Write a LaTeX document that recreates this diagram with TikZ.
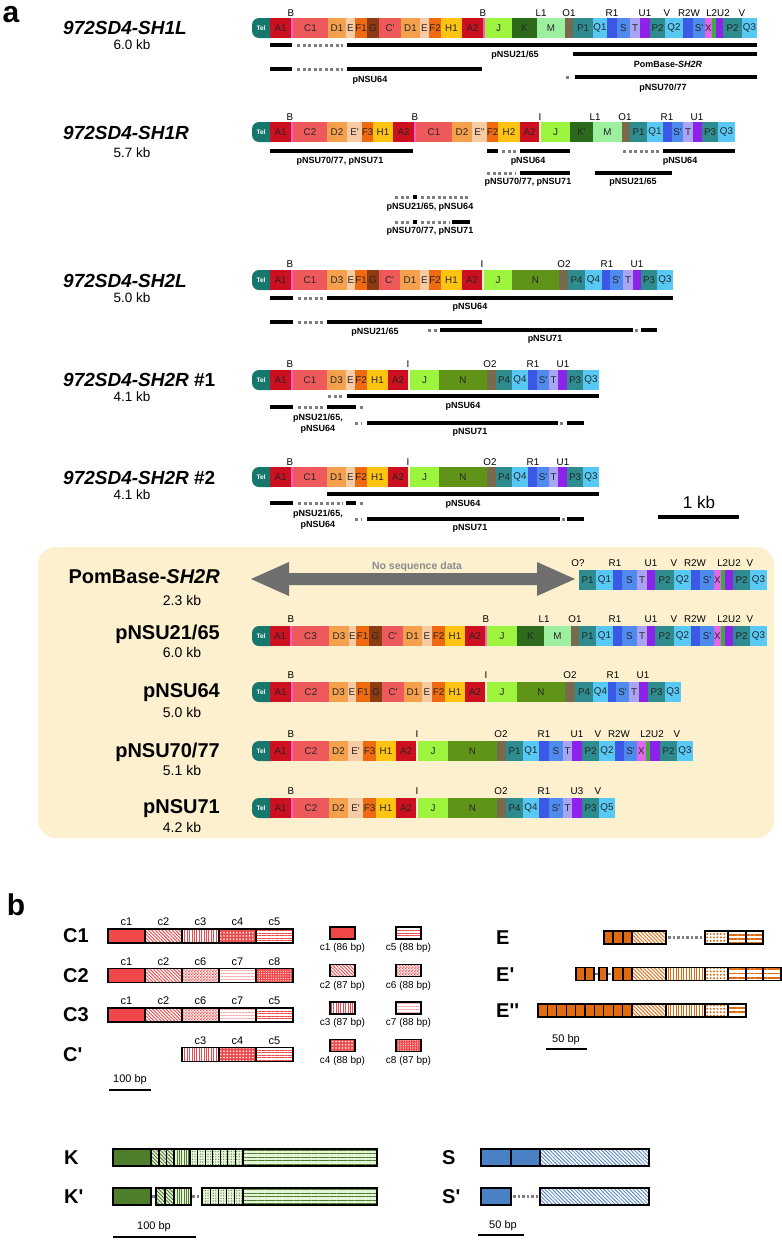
\documentclass[tikz,border=0pt]{standalone}
\usepackage{fontspec}
\setmainfont{Liberation Sans}
\usetikzlibrary{patterns,patterns.meta}
\pgfdeclarepattern{
  name=finecheck,
  type=uncolored,
  bottom left={\pgfpoint{0pt}{0pt}},
  top right={\pgfpoint{3.2pt}{3.2pt}},
  tile size={\pgfpoint{3.2pt}{3.2pt}},
  code={
    \pgfpathrectangle{\pgfpointorigin}{\pgfpoint{1.6pt}{1.6pt}}
    \pgfpathrectangle{\pgfpoint{1.6pt}{1.6pt}}{\pgfpoint{1.6pt}{1.6pt}}
    \pgfusepath{fill}
  }
}
\definecolor{cTel}{HTML}{17776C}
\definecolor{cA}{HTML}{CC1020}
\definecolor{cB}{HTML}{FF5CC8}
\definecolor{cI}{HTML}{FCEBD0}
\definecolor{cC}{HTML}{EE5A5C}
\definecolor{cD}{HTML}{F4A04C}
\definecolor{cE}{HTML}{F8CBA4}
\definecolor{cF}{HTML}{F06A12}
\definecolor{cG}{HTML}{8B3A12}
\definecolor{cH}{HTML}{FFC412}
\definecolor{cJ}{HTML}{9CF53C}
\definecolor{cK}{HTML}{2E6A1C}
\definecolor{cM}{HTML}{9DEFA0}
\definecolor{cN}{HTML}{5F9418}
\definecolor{cO}{HTML}{786A4C}
\definecolor{cP}{HTML}{2F8C8E}
\definecolor{cQ}{HTML}{58C8F5}
\definecolor{cR}{HTML}{3C58E6}
\definecolor{cS}{HTML}{4F8BEF}
\definecolor{cT}{HTML}{AAA4F4}
\definecolor{cU}{HTML}{8E22EA}
\definecolor{cX}{HTML}{E068E8}
\definecolor{cL}{HTML}{3FAA3F}
\definecolor{cBox}{HTML}{FDF0CF}
\definecolor{cArrow}{HTML}{6E6E6E}
\definecolor{cRed}{HTML}{F04848}
\definecolor{cOr}{HTML}{E06A10}
\definecolor{cKg}{HTML}{4E7D2C}
\definecolor{cKl}{HTML}{E6F4DA}
\definecolor{cSb}{HTML}{4A80C4}
\definecolor{cDot}{HTML}{7F7F7F}

\newcommand\ap{\textquotesingle}
\newcommand\tel[2]{\fill[cTel,rounded corners=7pt] (252,#2-10) rectangle (278,#2+10);
  \node[tellab] (#1) at (261,#2) {Tel};}
\newcommand\segs[3]{\foreach \sxa/\sxb/\scol/\slab [count=\sk] in {#3}{%
  \fill[\scol] (\sxa,#2-10) rectangle (\sxb,#2+10);
  \node[seglab] (#1-\sk) at ({(\sxa+\sxb)/2},#2) {\slab};}}
\newcommand\strip[4]{\fill[#4] (#1,#3-10) rectangle (#2,#3+10);}
\newcommand\tops[3]{\foreach \sxx/\slab [count=\sk] in {#3}{\node[toplab] (#1-\sk) at (\sxx,#2) {\slab};}}
\newcommand\bsol[3]{\draw[solbar] (#1,#3) -- (#2,#3);}
\newcommand\bdot[3]{\draw[dotbar] (#1,#3) -- (#2,#3);}
\newcommand\pb[6]{\fill[#5] (#1,#3-#4) rectangle (#2,#3+#4);
  \fill[#6] (#1,#3-#4) rectangle (#2,#3+#4);
  \draw[line width=1.2pt] (#1,#3-#4) rectangle (#2,#3+#4);}
\newcommand\cu[4]{\pb{#1}{#2}{#3}{7}{bg#4}{pat#4}}
\newcommand\eu[4]{\pb{#1}{#2}{#3}{6.5}{bg#4}{pat#4}}
\newcommand\ku[4]{\pb{#1}{#2}{#3}{8.5}{bg#4}{pat#4}}

\begin{document}
\begin{tikzpicture}[x=1pt,y=-1pt,
  seglab/.style={font=\fontsize{9.8}{10}\selectfont, inner sep=0pt, text=black!85},
  toplab/.style={font=\fontsize{9.8}{10}\selectfont, inner sep=0pt},
  tellab/.style={font=\bfseries\fontsize{6.5}{7}\selectfont, text=white, inner sep=0pt},
  barlab/.style={font=\bfseries\fontsize{9}{10}\selectfont, inner sep=0pt},
  solbar/.style={line width=4pt},
  dotbar/.style={line width=3pt, draw=cDot, dash pattern=on 3pt off 2.5pt},
  dotb/.style={line width=2.5pt, draw=cDot, dash pattern=on 2.5pt off 2pt},
  title/.style={font=\bfseries\itshape\fontsize{19}{20}\selectfont, inner sep=0pt, anchor=west},
  kb/.style={font=\fontsize{13.5}{14}\selectfont, inner sep=0pt},
  boxtitle/.style={font=\bfseries\fontsize{20}{22}\selectfont, inner sep=0pt, anchor=east},
  boxkb/.style={font=\fontsize{14}{15}\selectfont, inner sep=0pt},
  panel/.style={font=\bfseries\fontsize{30}{30}\selectfont, inner sep=0pt},
  blab/.style={font=\bfseries\fontsize{20}{22}\selectfont, inner sep=0pt, anchor=west},
  clab/.style={font=\fontsize{11}{12}\selectfont, inner sep=0pt},
  leglab/.style={font=\fontsize{10}{11}\selectfont, inner sep=0pt},
  scal/.style={font=\fontsize{11}{12}\selectfont, inner sep=0pt},
  bgc1/.style={fill=cRed}, patc1/.style={fill=none},
  bgc2/.style={fill=white}, patc2/.style={pattern={Lines[angle=-45,distance=2.4pt,line width=0.9pt]}, pattern color=cRed},
  bgc3/.style={fill=white}, patc3/.style={pattern={Lines[angle=90,distance=2.4pt,line width=0.9pt]}, pattern color=cRed},
  bgc4/.style={fill=cRed}, patc4/.style={pattern={Dots[radius=0.9pt,distance=3.2pt]}, pattern color=white},
  bgc5/.style={fill=white}, patc5/.style={pattern={Lines[angle=0,distance=2.6pt,line width=1pt]}, pattern color=cRed},
  bgc6/.style={fill=white}, patc6/.style={pattern=finecheck, pattern color=cRed},
  bgc7/.style={fill=white}, patc7/.style={pattern={Lines[angle=0,distance=3pt,line width=0.5pt]}, pattern color=cRed!45},
  bgc8/.style={fill=cRed}, patc8/.style={pattern={Dots[radius=0.6pt,distance=2.4pt]}, pattern color=white},
  bgeS/.style={fill=cOr}, pateS/.style={fill=none},
  bgeD/.style={fill=white}, pateD/.style={pattern={Lines[angle=-45,distance=2.6pt,line width=0.9pt]}, pattern color=cOr},
  bgeV/.style={fill=white}, pateV/.style={pattern={Lines[angle=90,distance=2.6pt,line width=1pt]}, pattern color=cOr},
  bgeC/.style={fill=white}, pateC/.style={pattern={Dots[radius=1.1pt,distance=3.4pt]}, pattern color=cOr},
  bgeH/.style={fill=white}, pateH/.style={pattern={Lines[angle=0,distance=4.3pt,line width=1.7pt]}, pattern color=cOr},
  bgkS/.style={fill=cKg}, patkS/.style={fill=none},
  bgkD/.style={fill=cKl}, patkD/.style={pattern={Lines[angle=-45,distance=2.6pt,line width=0.9pt]}, pattern color=cKg},
  bgkV/.style={fill=cKl}, patkV/.style={pattern={Lines[angle=90,distance=2.3pt,line width=0.8pt]}, pattern color=cKg},
  bgkG/.style={fill=cKl}, patkG/.style={pattern={Dots[radius=0.6pt,distance=2.6pt]}, pattern color=cKg},
  bgkH/.style={fill=cKl}, patkH/.style={pattern={Lines[angle=0,distance=3.6pt,line width=1.1pt]}, pattern color=cKg},
  bgsS/.style={fill=cSb}, patsS/.style={fill=none},
  bgsD/.style={fill=white}, patsD/.style={pattern={Lines[angle=-45,distance=2.6pt,line width=0.8pt]}, pattern color=cSb},
]
\useasboundingbox (0,0) rectangle (782,1240);
\fill[white] (0,0) rectangle (782,1240);

\node[panel] (pa) at (11,15) {a};

%% ---------------- SH1L
\node[title] (t1) at (63,28) {972SD4-SH1L};
\node[kb] (k1) at (132,45) {6.0 kb};
\tel{tel1}{28}
\segs{s1}{28}{270/291/cA/A1, 293/328/cC/C1, 328/346/cD/D1, 346/355/cE/E, 355/367/cF/F1, 367/379/cG/G, 379/401/cC/C\ap, 401/420/cD/D1, 420/429/cE/E, 429/441/cF/F2, 441/462/cH/H1, 462/483/cA/A2, 485/512/cJ/J, 512/537/cK/K, 537/565/cM/M, 565/573/cO/{}, 573/593/cP/P1, 593/607/cQ/Q1, 607/617/cR/{}, 617/630/cS/S, 630/640/cT/T, 640/650/cU/{}, 650/665/cP/P2, 665/683/cQ/Q2, 683/693/cR/{}, 693/705/cS/S\ap, 705/712/cX/X, 712/716/cL/{}, 716/723/cU/{}, 723/742/cP/P2, 742/757/cQ/Q3}
\strip{291}{293}{28}{cB}\strip{483}{485}{28}{cB}
\tops{u1}{13}{291/B, 483/B, 541/L1, 569/O1, 612/R1, 645/U1, 667/V, 689/R2W, 718/L2U2, 742/V}
\bsol{270}{292}{45}\bdot{297}{343}{45}\bsol{347}{757}{45}
\node[barlab] (b11) at (515,55) {pNSU21/65};
\bsol{573}{757}{54}
\node[barlab] (b12) at (668,64) {PomBase-\textit{SH2R}};
\bsol{270}{292}{69}\bdot{297}{343}{69}\bsol{347}{482}{69}
\node[barlab] (b13) at (370,80) {pNSU64};
\bdot{566}{571}{77}\bsol{575}{757}{77}
\node[barlab] (b14) at (663,88) {pNSU70/77};

%% ---------------- SH1R
\node[title] (t2) at (63,133) {972SD4-SH1R};
\node[kb] (k2) at (132,153) {5.7 kb};
\tel{tel2}{132}
\segs{s2}{132}{270/291/cA/A1, 293/327/cC/C2, 327/347/cD/D2, 347/362/cE/E\ap, 362/373/cF/F3, 373/393/cH/H1, 393/414/cA/A2, 416/452/cC/C1, 452/472/cD/D2, 472/487/cE/E\ap\ap, 487/498/cF/F2, 498/520/cH/H2, 520/539/cA/A2, 541/570/cJ/J, 570/593/cK/K\ap, 593/622/cM/M, 622/630/cO/{}, 630/647/cP/P1, 647/663/cQ/Q1, 663/672/cR/{}, 672/683/cS/S\ap, 683/693/cT/T, 693/702/cU/{}, 702/718/cP/P3, 718/735/cQ/Q3}
\strip{291}{293}{132}{cB}\strip{414}{416}{132}{cB}\strip{539}{541}{132}{cI}
\tops{u2}{117}{290/B, 415/B, 540/I, 595/L1, 625/O1, 667/R1, 697/U1}
\bsol{270}{413}{151}
\node[barlab] (b21) at (340,161) {pNSU70/77, pNSU71};
\bsol{487}{498}{151}\bdot{502}{516}{151}\bsol{520}{570}{151}
\node[barlab] (b22) at (528,161) {pNSU64};
\bdot{623}{659}{151}\bsol{663}{735}{151}
\node[barlab] (b23) at (680,161) {pNSU64};
\bdot{487}{516}{173}\bsol{520}{570}{173}
\node[barlab] (b24) at (528,182) {pNSU70/77, pNSU71};
\bsol{595}{672}{173}
\node[barlab] (b25) at (633,182) {pNSU21/65};
\bdot{395}{410}{197}\bsol{413}{417}{197}\bdot{421}{470}{197}
\node[barlab] (b26) at (430,207) {pNSU21/65, pNSU64};
\bdot{395}{410}{222}\bsol{413}{417}{222}\bdot{421}{450}{222}\bsol{452}{470}{222}
\node[barlab] (b27) at (430,231) {pNSU70/77, pNSU71};

%% ---------------- SH2L
\node[title] (t3) at (63,281) {972SD4-SH2L};
\node[kb] (k3) at (132,298) {5.0 kb};
\tel{tel3}{280}
\segs{s3}{280}{270/291/cA/A1, 293/327/cC/C1, 327/347/cD/D3, 347/355/cE/E, 355/367/cF/F1, 367/379/cG/G, 379/400/cC/C\ap, 400/420/cD/D1, 420/429/cE/E, 429/441/cF/F2, 441/462/cH/H1, 462/482/cA/A2, 484/512/cJ/J, 512/559/cN/N, 559/568/cO/{}, 568/585/cP/P4, 585/602/cQ/Q4, 602/610/cR/{}, 610/623/cS/S\ap, 623/633/cT/T, 633/641/cU/{}, 641/657/cP/P3, 657/673/cQ/Q3}
\strip{291}{293}{280}{cB}\strip{482}{484}{280}{cI}
\tops{u3}{264}{290/B, 482/I, 564/O2, 607/R1, 637/U1}
\bsol{270}{293}{298}\bdot{298}{323}{298}\bsol{327}{673}{298}
\node[barlab] (b31) at (470,307) {pNSU64};
\bsol{270}{293}{322}\bdot{298}{323}{322}\bsol{327}{482}{322}
\node[barlab] (b32) at (375,332) {pNSU21/65};
\bdot{428}{437}{330}\bsol{440}{633}{330}\bdot{635}{638}{330}\bsol{641}{657}{330}
\node[barlab] (b33) at (545,339) {pNSU71};

%% ---------------- SH2R #1
\node[title] (t4) at (63,380) {972SD4-SH2R \upshape\#1};
\node[kb] (k4) at (132,397) {4.1 kb};
\tel{tel4}{380}
\segs{s4}{380}{270/291/cA/A1, 293/327/cC/C1, 327/346/cD/D3, 346/355/cE/E, 355/367/cF/F2, 367/388/cH/H1, 388/408/cA/A2, 410/439/cJ/J, 439/487/cN/N, 487/496/cO/{}, 496/512/cP/P4, 512/528/cQ/Q4, 528/537/cR/{}, 537/549/cS/S\ap, 549/558/cT/T, 558/567/cU/{}, 567/583/cP/P3, 583/599/cQ/Q3}
\strip{291}{293}{380}{cB}\strip{408}{410}{380}{cI}
\tops{u4}{364}{290/B, 408/I, 490/O2, 533/R1, 563/U1}
\bdot{328}{343}{396}\bsol{347}{599}{396}
\node[barlab] (b41) at (463,406) {pNSU64};
\bsol{270}{293}{407}\bdot{298}{323}{407}\bsol{327}{356}{407}\bdot{360}{364}{407}
\node[barlab,align=center] (b42) at (318,424) {pNSU21/65,\\[1pt]pNSU64};
\bdot{355}{362}{423}\bsol{367}{558}{423}\bdot{560}{563}{423}\bsol{567}{584}{423}
\node[barlab] (b43) at (470,432) {pNSU71};

%% ---------------- SH2R #2
\node[title] (t5) at (63,478) {972SD4-SH2R \upshape\#2};
\node[kb] (k5) at (132,495) {4.1 kb};
\tel{tel5}{477}
\segs{s5}{477}{270/291/cA/A1, 293/327/cC/C1, 327/346/cD/D1, 346/355/cE/E, 355/367/cF/F2, 367/388/cH/H1, 388/408/cA/A2, 410/439/cJ/J, 439/487/cN/N, 487/496/cO/{}, 496/512/cP/P4, 512/528/cQ/Q4, 528/537/cR/{}, 537/549/cS/S\ap, 549/558/cT/T, 558/567/cU/{}, 567/583/cP/P3, 583/599/cQ/Q3}
\strip{291}{293}{477}{cB}\strip{408}{410}{477}{cI}
\tops{u5}{462}{290/B, 408/I, 490/O2, 533/R1, 563/U1}
\bsol{327}{599}{494}
\node[barlab] (b51) at (463,504) {pNSU64};
\bsol{270}{293}{503}\bdot{298}{343}{503}\bsol{346}{356}{503}\bdot{360}{364}{503}
\node[barlab,align=center] (b52) at (318,520) {pNSU21/65,\\[1pt]pNSU64};
\bdot{355}{362}{519}\bsol{367}{560}{519}\bdot{562}{565}{519}\bsol{567}{584}{519}
\node[barlab] (b53) at (470,528) {pNSU71};

%% scale 1 kb
\node[font=\fontsize{17}{18}\selectfont, inner sep=0pt] (kbs) at (699,502) {1 kb};
\draw[line width=4pt] (658,517) -- (739,517);

%% ---------------- box
\fill[cBox, rounded corners=18pt] (38,547) rectangle (774,838);

% PomBase
\node[boxtitle] (t6) at (220,577) {PomBase-\textit{SH2R}};
\node[boxkb] (k6) at (182,600) {2.3 kb};
\fill[cArrow] (251,579) -- (289,562) -- (289,573) -- (537,573) -- (537,562) -- (575,579) -- (537,596) -- (537,585) -- (289,585) -- (289,596) -- cycle;
\node[font=\bfseries\fontsize{10.5}{11}\selectfont, text=black!45, inner sep=0pt] (nsd) at (417,567) {No sequence data};
\segs{s6}{580}{579/596/cP/P1, 596/613/cQ/Q1, 613/622/cR/{}, 622/637/cS/S, 637/647/cT/T, 647/655/cU/{}, 655/674/cP/P2, 674/691/cQ/Q2, 691/700/cR/{}, 700/714/cS/S\ap, 714/721/cX/X, 721/725/cL/{}, 725/733/cU/{}, 733/750/cP/P2, 750/767/cQ/Q3}
\tops{u6}{563}{578/O?, 615/R1, 651/U1, 674/V, 695/R2W, 729/L2U2, 750/V}

% pNSU21/65
\node[boxtitle] (t7) at (220,634) {pNSU21/65};
\node[boxkb] (k7) at (182,652) {6.0 kb};
\tel{tel7}{636}
\segs{s7}{636}{270/290/cA/A1, 292/329/cC/C3, 329/349/cD/D3, 349/356/cE/E, 356/369/cF/F1, 369/382/cG/G, 382/403/cC/C\ap, 403/422/cD/D1, 422/432/cE/E, 432/445/cF/F2, 445/465/cH/H1, 465/485/cA/A2, 487/517/cJ/J, 517/544/cK/K, 544/571/cM/M, 571/579/cO/{}, 579/596/cP/P1, 596/613/cQ/Q1, 613/622/cR/{}, 622/637/cS/S, 637/647/cT/T, 647/655/cU/{}, 655/674/cP/P2, 674/691/cQ/Q2, 691/700/cR/{}, 700/714/cS/S\ap, 714/721/cX/X, 721/725/cL/{}, 725/733/cU/{}, 733/750/cP/P2, 750/767/cQ/Q3}
\strip{290}{292}{636}{cB}\strip{485}{487}{636}{cB}
\tops{u7}{619}{291/B, 486/B, 544/L1, 575/O1, 615/R1, 651/U1, 674/V, 695/R2W, 729/L2U2, 750/V}

% pNSU64
\node[boxtitle] (t8) at (220,693) {pNSU64};
\node[boxkb] (k8) at (182,712) {5.0 kb};
\tel{tel8}{692}
\segs{s8}{692}{270/291/cA/A1, 293/329/cC/C2, 329/348/cD/D3, 348/356/cE/E, 356/370/cF/F1, 370/382/cG/G, 382/404/cC/C\ap, 404/422/cD/D1, 422/432/cE/E, 432/445/cF/F2, 445/465/cH/H1, 465/485/cA/A2, 487/517/cJ/J, 517/565/cN/N, 565/575/cO/{}, 575/593/cP/P4, 593/608/cQ/Q4, 608/616/cR/{}, 616/629/cS/S\ap, 629/639/cT/T, 639/648/cU/{}, 648/665/cP/P3, 665/681/cQ/Q3}
\strip{291}{293}{692}{cB}\strip{485}{487}{692}{cI}
\tops{u8}{675}{291/B, 486/I, 570/O2, 613/R1, 643/U1}

% pNSU70/77
\node[boxtitle] (t9) at (220,752) {pNSU70/77};
\node[boxkb] (k9) at (182,770) {5.1 kb};
\tel{tel9}{751}
\segs{s9}{751}{270/291/cA/A1, 293/329/cC/C2, 329/348/cD/D2, 348/363/cE/E\ap, 363/376/cF/F3, 376/396/cH/H1, 396/416/cA/A2, 418/448/cJ/J, 448/497/cN/N, 497/506/cO/{}, 506/523/cP/P1, 523/539/cQ/Q1, 539/549/cR/{}, 549/563/cS/S, 563/572/cT/T, 572/582/cU/{}, 582/599/cP/P2, 599/615/cQ/Q2, 615/624/cR/{}, 624/637/cS/S\ap, 637/646/cX/X, 646/650/cL/{}, 650/660/cU/{}, 660/677/cP/P2, 677/693/cQ/Q3}
\strip{291}{293}{751}{cB}\strip{416}{418}{751}{cI}
\tops{u9}{734}{291/B, 417/I, 501/O2, 544/R1, 577/U1, 598/V, 619/R2W, 652/L2U2, 677/V}

% pNSU71
\node[boxtitle] (t10) at (220,809) {pNSU71};
\node[boxkb] (k10) at (182,827) {4.2 kb};
\tel{tel10}{808}
\segs{s10}{808}{270/291/cA/A1, 293/329/cC/C2, 329/348/cD/D2, 348/363/cE/E\ap, 363/376/cF/F3, 376/396/cH/H1, 396/416/cA/A2, 418/448/cJ/J, 448/497/cN/N, 497/506/cO/{}, 506/523/cP/P4, 523/539/cQ/Q4, 539/549/cR/{}, 549/563/cS/S\ap, 563/572/cT/T, 572/582/cU/{}, 582/599/cP/P3, 599/615/cQ/Q5}
\strip{291}{293}{808}{cB}\strip{416}{418}{808}{cI}
\tops{u10}{791}{291/B, 417/I, 501/O2, 544/R1, 577/U3, 598/V}

%% ================= panel b
\node[panel] (pb) at (16,905) {b};

% C repeats
\node[blab] (lc1) at (63,936) {C1};
\node[blab] (lc2) at (63,975.5) {C2};
\node[blab] (lc3) at (63,1015) {C3};
\node[blab] (lc4) at (63,1054.5) {C\ap};
\cu{108}{145}{936}{c1}\cu{145}{182}{936}{c2}\cu{182}{219}{936}{c3}\cu{219}{256}{936}{c4}\cu{256}{293}{936}{c5}
\cu{108}{145}{975.5}{c1}\cu{145}{182}{975.5}{c2}\cu{182}{219}{975.5}{c6}\cu{219}{256}{975.5}{c7}\cu{256}{293}{975.5}{c8}
\cu{108}{145}{1015}{c1}\cu{145}{182}{1015}{c2}\cu{182}{219}{1015}{c6}\cu{219}{256}{1015}{c7}\cu{256}{293}{1015}{c5}
\cu{182}{219}{1054.5}{c3}\cu{219}{256}{1054.5}{c4}\cu{256}{293}{1054.5}{c5}
\foreach \cx/\cl [count=\ci] in {126.5/c1,163.5/c2,200.5/c3,237.5/c4,274.5/c5}{\node[clab] (ca-\ci) at (\cx,922) {\cl};}
\foreach \cx/\cl [count=\ci] in {126.5/c1,163.5/c2,200.5/c6,237.5/c7,274.5/c8}{\node[clab] (cb-\ci) at (\cx,961.5) {\cl};}
\foreach \cx/\cl [count=\ci] in {126.5/c1,163.5/c2,200.5/c6,237.5/c7,274.5/c5}{\node[clab] (cc-\ci) at (\cx,1001) {\cl};}
\foreach \cx/\cl [count=\ci] in {200.5/c3,237.5/c4,274.5/c5}{\node[clab] (cd-\ci) at (\cx,1040.5) {\cl};}
% legend
\pb{330}{355}{933}{6}{bgc1}{patc1}\pb{396}{421}{933}{6}{bgc5}{patc5}
\pb{330}{355}{970.5}{6}{bgc2}{patc2}\pb{396}{421}{970.5}{6}{bgc6}{patc6}
\pb{330}{355}{1008}{6}{bgc3}{patc3}\pb{396}{421}{1008}{6}{bgc7}{patc7}
\pb{330}{355}{1045.5}{6}{bgc4}{patc4}\pb{396}{421}{1045.5}{6}{bgc8}{patc8}
\node[leglab] (lg1) at (342.5,948) {c1 (86 bp)};
\node[leglab] (lg5) at (408.5,948) {c5 (88 bp)};
\node[leglab] (lg2) at (342.5,985.5) {c2 (87 bp)};
\node[leglab] (lg6) at (408.5,985.5) {c6 (88 bp)};
\node[leglab] (lg3) at (342.5,1023) {c3 (87 bp)};
\node[leglab] (lg7) at (408.5,1023) {c7 (88 bp)};
\node[leglab] (lg4) at (342.5,1060.5) {c4 (88 bp)};
\node[leglab] (lg8) at (408.5,1060.5) {c8 (87 bp)};
\node[scal] (sc1) at (130,1080) {100 bp};
\draw[line width=2.5pt] (109,1090) -- (151,1090);

% E repeats
\node[blab] (le1) at (496,938) {E};
\node[blab] (le2) at (496,974.5) {E\ap};
\node[blab] (le3) at (496,1011) {E\ap\ap};
\eu{604}{613}{937.5}{eS}\eu{613}{623}{937.5}{eS}\eu{623}{632}{937.5}{eS}\eu{632}{666}{937.5}{eD}
\draw[dotb] (668,937.5) -- (704,937.5);
\eu{705}{728}{937.5}{eC}\eu{728}{746}{937.5}{eH}\eu{746}{763}{937.5}{eH}
\eu{576}{585}{974}{eS}\eu{585}{594}{974}{eS}
\draw[dotb] (595,974) -- (599,974);
\eu{599}{607}{974}{eS}
\draw[dotb] (608,974) -- (612,974);
\eu{613}{623}{974}{eS}\eu{623}{632}{974}{eS}\eu{632}{666}{974}{eD}\eu{666}{705}{974}{eV}\eu{705}{728}{974}{eC}\eu{728}{746}{974}{eH}\eu{746}{763}{974}{eH}\eu{763}{781}{974}{eH}
\foreach \ei in {0,...,9}{\eu{538+9.4*\ei}{547.4+9.4*\ei}{1010.5}{eS}}
\eu{632}{666}{1010.5}{eD}\eu{666}{705}{1010.5}{eV}\eu{705}{728}{1010.5}{eC}\eu{728}{746}{1010.5}{eH}
\node[scal] (sc2) at (566,1040) {50 bp};
\draw[line width=2.5pt] (546,1049) -- (587,1049);

% K repeats
\node[blab] (lk1) at (64,1158) {K};
\node[blab] (lk2) at (64,1197) {K\ap};
\ku{113}{151}{1157.5}{kS}\ku{151}{159}{1157.5}{kD}\ku{159}{166.5}{1157.5}{kD}\ku{166.5}{174}{1157.5}{kD}\ku{174}{190}{1157.5}{kV}
\foreach \ki in {0,...,6}{\ku{190+7.57*\ki}{197.57+7.57*\ki}{1157.5}{kG}}
\ku{243}{377}{1157.5}{kH}
\ku{113}{151}{1196.5}{kS}
\draw[dotb] (152,1196.5) -- (156,1196.5);
\ku{156}{165}{1196.5}{kD}\ku{165}{174}{1196.5}{kD}\ku{174}{191}{1196.5}{kV}
\draw[dotb] (192,1196.5) -- (201,1196.5);
\foreach \ki in {0,...,4}{\ku{202+8.2*\ki}{210.2+8.2*\ki}{1196.5}{kG}}
\ku{243}{377}{1196.5}{kH}
\node[scal] (sc3) at (154,1227) {100 bp};
\draw[line width=2.5pt] (113,1237) -- (196,1237);

% S repeats
\node[blab] (ls1) at (442,1158) {S};
\node[blab] (ls2) at (442,1197) {S\ap};
\ku{481}{511}{1157.5}{sS}\ku{511}{540}{1157.5}{sS}\ku{540}{649}{1157.5}{sD}
\ku{481}{511}{1196.5}{sS}
\draw[dotb] (513,1196.5) -- (539,1196.5);
\ku{540}{649}{1196.5}{sD}
\node[scal] (sc4) at (503,1226) {50 bp};
\draw[line width=2.5pt] (478,1235) -- (524,1235);
\end{tikzpicture}
\end{document}
